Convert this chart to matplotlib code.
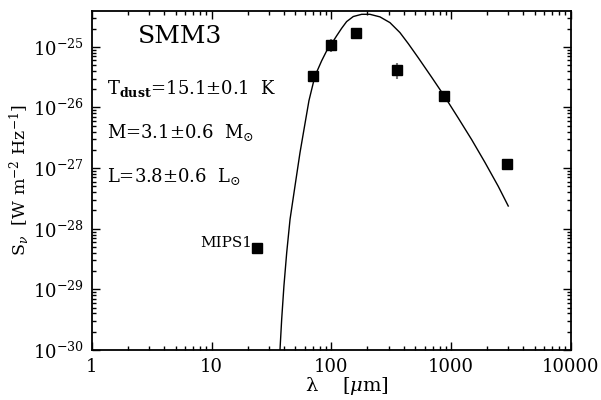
"""SED of SMM3: photometry with a modified blackbody fit."""

import matplotlib
matplotlib.use("Agg")
import matplotlib.pyplot as plt
import numpy as np

# photometry (wavelength in micron, flux density in W m^-2 Hz^-1)
wave = [70, 100, 160, 350, 870, 2900]
flux = [3.3e-26, 1.08e-25, 1.7e-25, 4.2e-26, 1.56e-26, 1.17e-27]
err_lo = [0.0, 0.12, 0.05, 0.16, 0.07, 0.0]   # dex
err_hi = [0.0, 0.10, 0.05, 0.115, 0.07, 0.0]  # dex

mips_wave = [24]
mips_flux = [4.8e-29]

# fitted greybody curve
fit_wave = [36.6, 37.2, 38.4, 40.1, 42.3, 45.1, 49.6, 54.6, 59.3, 64.9, 72.8,
            82.8, 91.2, 100.4, 110.5, 121.6, 133.9, 152.1, 178.7, 209.6, 254,
            307.8, 373, 438, 531, 687, 875, 1145, 1482, 1914, 2472, 2995]
fit_flux = [5.9e-31, 1.03e-30, 3.2e-30, 1.14e-29, 4.04e-29, 1.43e-28, 5.05e-28,
            1.79e-27, 4.63e-27, 1.30e-26, 3.3e-26, 5.88e-26, 8.59e-26, 1.13e-25,
            1.52e-25, 2.02e-25, 2.61e-25, 3.16e-25, 3.44e-25, 3.44e-25, 3.12e-25,
            2.51e-25, 1.72e-25, 1.13e-25, 6.6e-26, 3.15e-26, 1.55e-26, 6.7e-27,
            2.95e-27, 1.24e-27, 5.0e-28, 2.37e-28]

labels = [r"T$_{\mathbf{dust}}$=15.1$\pm$0.1  K",
          r"M=3.1$\pm$0.6  M$_{\odot}$",
          r"L=3.8$\pm$0.6  L$_{\odot}$"]


def main():
    plt.rcParams["font.family"] = "DejaVu Serif"
    plt.rcParams["mathtext.fontset"] = "dejavuserif"

    fig = plt.figure(figsize=(6.01, 4.0), dpi=100)
    ax = fig.add_axes([0.153, 0.125, 0.797, 0.8475])

    ax.plot(fit_wave, fit_flux, color="black", lw=1.0)

    f = np.array(flux)
    yerr = [f - f / 10 ** np.array(err_lo), f * 10 ** np.array(err_hi) - f]
    ax.errorbar(wave, flux, yerr=yerr, fmt="none", ecolor="#777777", elinewidth=1.5)
    ax.plot(wave, flux, "s", color="black", ms=6.5)
    ax.plot(mips_wave, mips_flux, "s", color="black", ms=6.5)

    ax.set_xscale("log")
    ax.set_yscale("log")
    ax.set_xlim(1, 10000)
    ax.set_ylim(1e-30, 3.9e-25)

    ax.set_xticks([1, 10, 100, 1000, 10000])
    ax.set_xticklabels(["1", "10", "100", "1000", "10000"])
    ax.set_yticks([1e-30, 1e-29, 1e-28, 1e-27, 1e-26, 1e-25])
    ax.set_yticklabels([r"10$^{-%d}$" % n for n in range(30, 24, -1)])

    ax.tick_params(which="both", direction="in", top=True, right=True,
                   labelsize=13, width=1.0)
    ax.tick_params(which="major", length=5.5, pad=6)
    ax.tick_params(which="minor", length=3)
    for s in ax.spines.values():
        s.set_linewidth(1.3)

    ax.set_xlabel("λ    [$\\mu$m]", fontsize=14)
    ax.xaxis.set_label_coords(0.532, -0.074)
    ax.set_ylabel(r"S$_\nu$  [W m$^{-2}$ Hz$^{-1}$]", fontsize=12.5, labelpad=1)

    ax.text(0.096, 0.905, "SMM3", transform=ax.transAxes, fontsize=18)
    for i, t in enumerate(labels):
        ax.text(0.032, 0.755 - i * 0.13, t, transform=ax.transAxes, fontsize=13)
    ax.text(0.335, 0.305, "MIPS1", transform=ax.transAxes, fontsize=11, ha="right")

    fig.savefig("out.png", dpi=100)
    plt.close(fig)


if __name__ == "__main__":
    main()
